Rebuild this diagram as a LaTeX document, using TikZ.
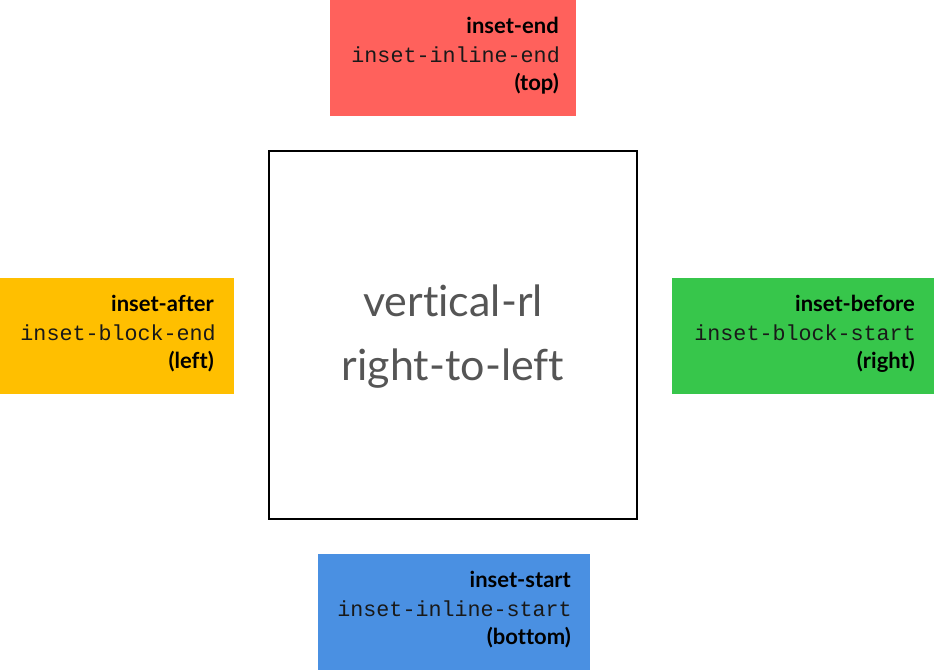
\documentclass[tikz,border=0pt]{standalone}
\usepackage{fontspec}
\setmainfont{Lato}
\newfontfamily\hand[Ligatures={NoCommon,NoRare,NoDiscretionary}]{Lato}
\newfontfamily\monof{Liberation Mono}
\definecolor{cred}{HTML}{FF615C}
\definecolor{corange}{HTML}{FFBF00}
\definecolor{cgreen}{HTML}{37C64B}
\definecolor{cblue}{HTML}{4A90E2}
\definecolor{cgray}{HTML}{555555}
\tikzset{
  lbl/.style={anchor=base east, inner sep=0pt, font=\hand\fontsize{22}{22}\selectfont\bfseries, text=black},
  code/.style={anchor=base east, inner sep=0pt, font=\monof\fontsize{21.7}{21.7}\selectfont, text=black!90},
  big/.style={anchor=base, inner sep=0pt, font=\hand\fontsize{43}{43}\selectfont, text=cgray},
}
\begin{document}
\begin{tikzpicture}[x=1pt,y=-1pt]
\useasboundingbox (0,0) rectangle (934,670);
% boxes
\fill[cred] (330,0) rectangle (576,116);
\fill[corange] (0,278) rectangle (234,394);
\fill[cgreen] (672,278) rectangle (934,394);
\fill[cblue] (318,554) rectangle (590,670);
\draw[line width=2pt] (269,151) rectangle (637,519);
% center text
\node[big] (c1) at (453,316) {vertical-rl};
\node[big] (c2) at (453,380) {right-to-left};
% top
\node[lbl] (t1) at (559,33) {inset-end};
\node[code] (t2) at (560,62) {inset-inline-end};
\node[lbl] (t3) at (559,90) {(top)};
% left
\node[lbl] (l1) at (214,311) {inset-after};
\node[code] (l2) at (216,340) {inset-block-end};
\node[lbl] (l3) at (214,368) {(left)};
% right
\node[lbl] (r1) at (915,311) {inset-before};
\node[code] (r2) at (916,340) {inset-block-start};
\node[lbl] (r3) at (915,368) {(right)};
% bottom
\node[lbl] (b1) at (571,587) {inset-start};
\node[code] (b2) at (572,616) {inset-inline-start};
\node[lbl] (b3) at (571,644) {(bottom)};
\end{tikzpicture}
\end{document}
